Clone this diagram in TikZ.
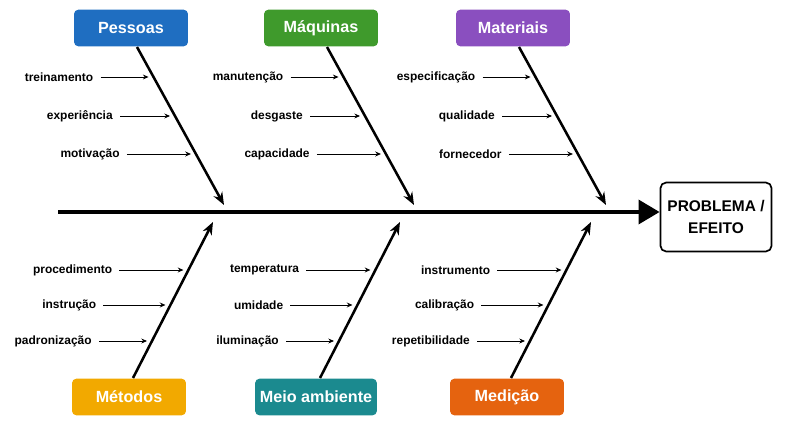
\documentclass[tikz,border=0pt]{standalone}
\usepackage{fontspec}
\setmainfont{Liberation Sans}
\usetikzlibrary{calc,arrows.meta,positioning}
\definecolor{cblue}{HTML}{1F6EC1}
\definecolor{cgreen}{HTML}{3F9A2C}
\definecolor{cpurple}{HTML}{8A4FBF}
\definecolor{cyellow}{HTML}{F2A900}
\definecolor{cteal}{HTML}{1B8A8F}
\definecolor{corange}{HTML}{E5630F}
\tikzset{
cat/.style={rounded corners=3pt,minimum width=81pt,minimum height=26pt,text=white,font=\fontsize{11.5}{13}\selectfont\bfseries},
bone/.style={-{Stealth[length=9pt,width=7pt]},line width=1.8pt},
twig/.style={-{Stealth[length=4pt,width=3.5pt]},line width=0.6pt,shorten <=5pt},
lbl/.style={inner sep=0pt,font=\fontsize{8.5}{10}\selectfont\bfseries}
}
\begin{document}
\begin{tikzpicture}[x=0.025cm,y=-0.025cm]
\useasboundingbox (0,0) rectangle (800,439);

% Spine and effect
\node[draw,line width=1.2pt,rounded corners=4pt,minimum width=79pt,minimum height=49pt,align=center,
  font=\fontsize{11}{15}\selectfont\bfseries] (effect) at (716,217) {PROBLEMA /\\EFEITO};
\coordinate (tail) at (58,212);
\draw[-{Triangle[length=15pt,width=17pt]},line width=2.8pt] (tail) -- (effect.west|-tail);

% Top bones
\foreach \i/\bx/\cat/\col/\la/\lb/\lc in {1/137/Pessoas/cblue/treinamento/experiência/motivação,
  2/327/Máquinas/cgreen/manutenção/desgaste/capacidade,
  3/519/Materiais/cpurple/especificação/qualidade/fornecedor}{
  \node[cat,fill=\col] (top\i) at (\bx-6,28) {\cat};
  \coordinate (ts\i) at (\bx,47);
  \coordinate (te\i) at (\bx+87,205);
  \draw[bone] (ts\i) -- (te\i);
  \foreach \j/\y/\len/\lab in {1/77/48/\la,2/116/50/\lb,3/154/64/\lc}{
    \pgfmathsetmacro\t{(\y-47)/158}
    \coordinate (ta\i\j) at ($(ts\i)!\t!(te\i)+(-5,0)$);
    \node[lbl,anchor=east] (tl\i\j) at ($(ta\i\j)+(-\len-7,0)$) {\lab};
    \draw[twig] (tl\i\j.east) -- (ta\i\j);
  }
}

% Bottom bones
\foreach \i/\bx/\cat/\col/\la/\lb/\lc in {1/133/Métodos/cyellow/procedimento/instrução/padronização,
  2/320/Meio ambiente/cteal/temperatura/umidade/iluminação,
  3/511/Medição/corange/instrumento/calibração/repetibilidade}{
  \node[cat,fill=\col] (bot\i) at (\bx-4,397) {\cat};
  \coordinate (bs\i) at (\bx,378);
  \coordinate (be\i) at (\bx+80,222);
  \draw[bone] (bs\i) -- (be\i);
  \foreach \j/\y/\len/\lab in {1/270/64/\la,2/305/62/\lb,3/341/48/\lc}{
    \pgfmathsetmacro\t{(378-\y)/156}
    \coordinate (ba\i\j) at ($(bs\i)!\t!(be\i)+(-5,0)$);
    \node[lbl,anchor=east] (bl\i\j) at ($(ba\i\j)+(-\len-7,0)$) {\lab};
    \draw[twig] (bl\i\j.east) -- (ba\i\j);
  }
}
\end{tikzpicture}
\end{document}
